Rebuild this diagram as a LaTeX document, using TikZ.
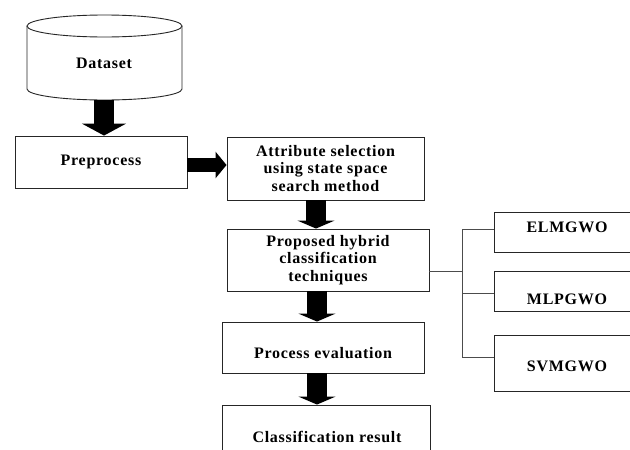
\documentclass[tikz,border=0pt]{standalone}
\usepackage{fontspec}
\setmainfont{Liberation Serif}[LetterSpace=4.5]
\usetikzlibrary{arrows.meta}
\begin{document}
\begin{tikzpicture}[x=1pt,y=-1pt,
  box/.style={draw=black!85, line width=0.9pt, rectangle, inner sep=0pt},
  txt/.style={font=\fontsize{16}{17.5}\selectfont\bfseries, align=center, inner sep=0pt, text=black},
  blk/.style={line width=20pt, -{Triangle[length=8pt,width=37pt]}},
  blkbig/.style={line width=20pt, -{Triangle[length=12pt,width=44pt]}},
  blkh/.style={line width=14pt, -{Triangle[length=11pt,width=26pt]}},
  tree/.style={draw=black!70, line width=0.9pt}]
\clip (0,0) rectangle (630,450);
\fill[white] (0,0) rectangle (630,450);
% cylinder
\draw[black!85, line width=0.9pt] (104.5,26) ellipse [x radius=77.5, y radius=11];
\draw[black!85, line width=0.9pt] (27,26) -- (27,89)
  .. controls (27,95.07) and (61.7,100) .. (104.5,100)
  .. controls (147.3,100) and (182,95.07) .. (182,89) -- (182,26);
\node[txt] (ds) at (104,63) {Dataset};
\coordinate (dsb) at (104,100);
% boxes
\node[box, txt, minimum width=172pt, minimum height=52pt] (pre) at (101,162) {Preprocess};
\node[box, txt, minimum width=197pt, minimum height=63pt] (att) at (325.5,168.5) {Attribute selection\\using state space\\search method};
\node[box, txt, minimum width=202pt, minimum height=62pt] (prop) at (328,260) {Proposed hybrid\\classification\\techniques};
\node[box, minimum width=202pt, minimum height=51pt] (proc) at (323,347.5) {};
\node[txt] (procT) at (323,353) {Process evaluation};
\node[box, minimum width=208pt, minimum height=65pt] (cls) at (326,437.5) {};
\node[txt] (clsT) at (327,437) {Classification result};
\node[box, minimum width=146pt, minimum height=40pt] (elm) at (567,232) {};
\node[txt] (elmT) at (567,227) {ELMGWO};
\node[box, minimum width=146pt, minimum height=40pt] (mlp) at (567,291) {};
\node[txt] (mlpT) at (567,299) {MLPGWO};
\node[box, minimum width=146pt, minimum height=56pt] (svm) at (567,363) {};
\node[txt] (svmT) at (567,366) {SVMGWO};
% block arrows
\draw[blkbig] (dsb) -- (dsb |- pre.north);
\draw[blkh] ([yshift=-3pt]pre.east) -- ([yshift=-3pt]pre.east -| att.west);
\draw[blk] ([xshift=-9.5pt]att.south) -- ([xshift=-9.5pt]att.south |- prop.north);
\draw[blk] ([xshift=-11pt]prop.south) -- ([xshift=-11pt]prop.south |- proc.north);
\draw[blk] ([xshift=-6pt]proc.south) -- ([xshift=-6pt]proc.south |- cls.north);
% tree
\coordinate (j) at (462,271);
\coordinate (t1) at (462,229);
\coordinate (t2) at (462,293);
\coordinate (t3) at (462,357);
\draw[tree] ([yshift=-11pt]prop.east) -- (j);
\draw[tree] (t1) -- (t3);
\draw[tree] (t1) -- (t1 -| elm.west);
\draw[tree] (t2) -- (t2 -| mlp.west);
\draw[tree] (t3) -- (t3 -| svm.west);
\end{tikzpicture}
\end{document}
